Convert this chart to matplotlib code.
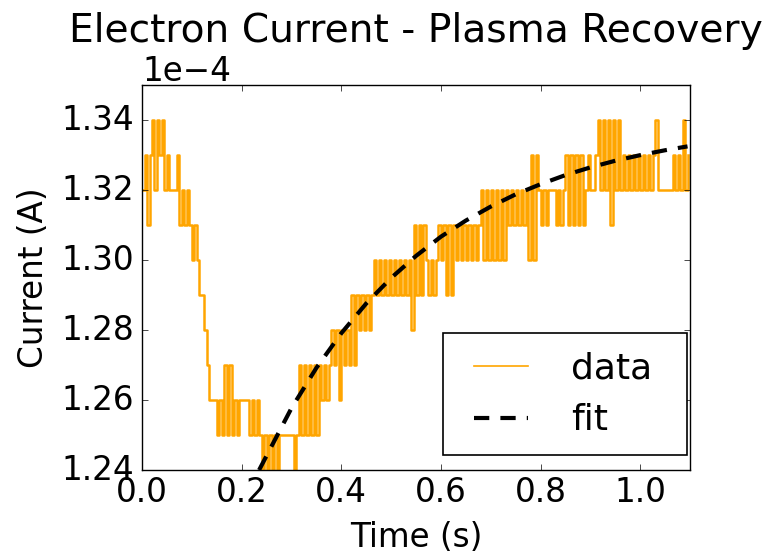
import numpy as np
import matplotlib
matplotlib.use("Agg")
import matplotlib.pyplot as plt
from matplotlib.patches import Rectangle

# sampled electron current, in units of 1e-4 A (one sample every 5 ms)
sample_dt = 0.005
current_e4 = [
    1.32, 1.33, 1.31, 1.33, 1.34, 1.32, 1.34, 1.33, 1.34, 1.32, 1.33, 1.32,
    1.32, 1.32, 1.33, 1.31, 1.32, 1.31, 1.32, 1.31, 1.30, 1.31, 1.30, 1.29,
    1.29, 1.28, 1.27, 1.26,
    1.26, 1.26,
    1.25, 1.26, 1.25, 1.27, 1.25, 1.27, 1.25, 1.26, 1.25, 1.26,
    1.26, 1.26, 1.26, 1.25, 1.26, 1.25, 1.26, 1.25, 1.24, 1.25, 1.23, 1.25,
    1.23, 1.25, 1.24, 1.25,
    1.25, 1.25, 1.25, 1.25, 1.25, 1.23, 1.25,
    1.27, 1.25, 1.27, 1.25, 1.27, 1.25, 1.27, 1.25, 1.27,
    1.26, 1.27, 1.26, 1.27, 1.28, 1.27, 1.28, 1.26, 1.28, 1.27, 1.28, 1.27,
    1.29, 1.27, 1.29,
    1.28, 1.29, 1.28, 1.29, 1.28, 1.29,
    1.30, 1.29, 1.30, 1.29, 1.30, 1.29, 1.30,
    1.29, 1.30, 1.29, 1.30,
    1.29, 1.30, 1.29, 1.30,
    1.28,
    1.31, 1.29, 1.31, 1.29, 1.31, 1.30,
    1.29, 1.30, 1.29, 1.30,
    1.31, 1.30, 1.31, 1.29, 1.31, 1.29, 1.31, 1.30,
    1.31, 1.30, 1.31, 1.30, 1.31, 1.30, 1.31, 1.30, 1.31,
    1.32, 1.30, 1.32, 1.30, 1.32, 1.30, 1.32, 1.30, 1.32, 1.30, 1.32, 1.31,
    1.32, 1.31, 1.32, 1.31, 1.32, 1.31, 1.32,
    1.30, 1.33, 1.30, 1.33, 1.32,
    1.31, 1.32, 1.31, 1.32,
    1.32, 1.32,
    1.31, 1.32, 1.31, 1.32,
    1.33, 1.31, 1.33, 1.31, 1.33, 1.31, 1.33, 1.31,
    1.32, 1.33, 1.32, 1.32, 1.33,
    1.34, 1.32, 1.34, 1.32, 1.34, 1.31, 1.34, 1.32, 1.34, 1.32,
    1.33, 1.32, 1.33, 1.32, 1.33, 1.32,
    1.33, 1.32, 1.33, 1.32, 1.33, 1.32,
    1.33, 1.34, 1.32,
    1.32, 1.32, 1.32, 1.32, 1.32, 1.33, 1.32, 1.33, 1.32, 1.34, 1.32, 1.33,
]

# recovery fit
fit_t = [0.235, 0.30, 0.35, 0.40, 0.45, 0.50, 0.55, 0.60, 0.65, 0.70,
         0.75, 0.80, 0.85, 0.90, 0.95, 1.00, 1.05, 1.095]
fit_e4 = [1.2400, 1.2577, 1.2692, 1.2791, 1.2876, 1.2949, 1.3012, 1.3067,
          1.3113, 1.3153, 1.3188, 1.3217, 1.3243, 1.3265, 1.3284, 1.3300,
          1.3314, 1.3325]

t = np.arange(len(current_e4)) * sample_dt
current = np.array(current_e4) * 1e-4
fit_y = np.array(fit_e4) * 1e-4

plt.style.use('classic')
plt.rcParams['font.size'] = 23.5
plt.rcParams['ytick.major.pad'] = 6
plt.rcParams['xtick.major.pad'] = 4
plt.rcParams['axes.formatter.useoffset'] = False

fig = plt.figure(figsize=(7.74, 5.53), dpi=100, facecolor='white')
ax = fig.add_axes([0.1835, 0.150, 0.708, 0.696])

ax.plot(t, current, color='orange', linewidth=1.8, drawstyle='steps-post', label='data')
ax.plot(fit_t, fit_y, color='black', linestyle='--', dashes=(11, 8), linewidth=3, label='fit')

ax.set_xlim(0, 1.1)
ax.set_ylim(1.24e-4, 1.35e-4)
ax.set_yticks(np.array([1.24, 1.26, 1.28, 1.30, 1.32, 1.34]) * 1e-4)
ax.set_xticks([0.0, 0.2, 0.4, 0.6, 0.8, 1.0])
ax.ticklabel_format(axis='y', style='sci', scilimits=(0, 0))

ax.set_xlabel('Time (s)', labelpad=9)
ax.set_ylabel('Current (A)', labelpad=8)
ax.set_title('Electron Current - Plasma Recovery', y=1.095)

# legend box drawn separately so its padding matches the original
ax.add_patch(Rectangle((0.549, 0.039), 0.4455, 0.317, transform=ax.transAxes,
                       facecolor='white', edgecolor='black', linewidth=1.2,
                       zorder=4.9))
leg = ax.legend(loc='center', bbox_to_anchor=(0.758, 0.197), frameon=False,
                fontsize=26, handlelength=2.1, handletextpad=0.9)
for line in leg.get_lines():
    if line.get_label() == 'data':
        line.set_linewidth(1.2)

plt.savefig('out.png', dpi=100, facecolor='white')
